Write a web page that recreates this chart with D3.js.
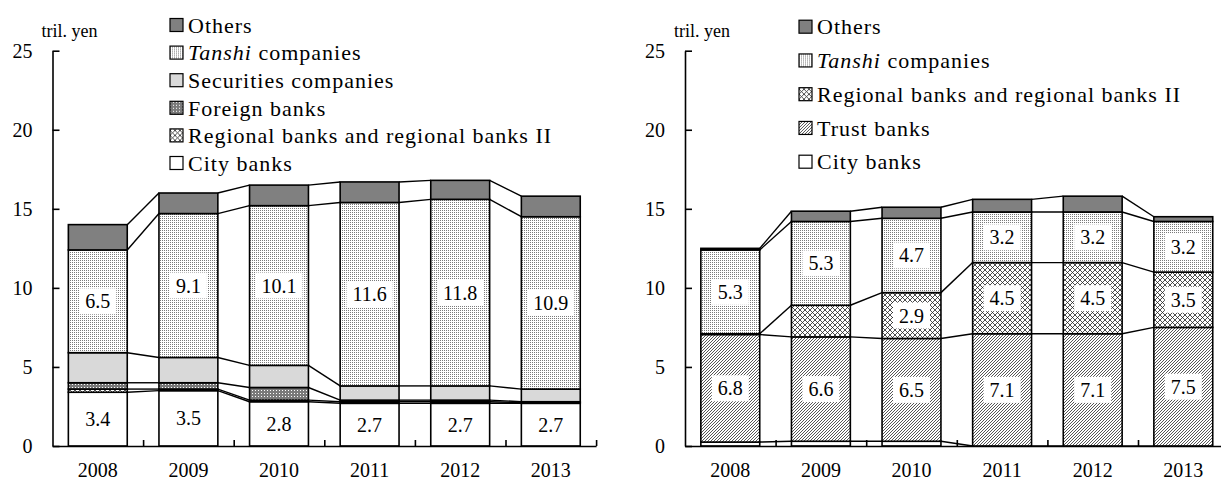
<!DOCTYPE html>
<html>
<head>
<meta charset="utf-8">
<script src="https://cdn.jsdelivr.net/npm/d3@7"></script>
<style>
	body { margin: 0; background: #fff; }
	text { font-family: "Liberation Serif", "Times New Roman", serif; fill: #000; }
</style>
</head>
<body>
<svg id="chart"></svg>
<script>
const years = ["2008", "2009", "2010", "2011", "2012", "2013"];
const yTicks = [0, 5, 10, 15, 20, 25];

// left panel, bottom to top
const leftCity = [3.4, 3.5, 2.8, 2.7, 2.7, 2.7];
const leftRegional = [0.2, 0.1, 0.1, 0.1, 0.1, 0.05];
const leftForeign = [0.4, 0.4, 0.8, 0.1, 0.1, 0.05];
const leftSecurities = [1.9, 1.6, 1.4, 0.9, 0.9, 0.8];
const leftTanshi = [6.5, 9.1, 10.1, 11.6, 11.8, 10.9];
const leftOthers = [1.6, 1.3, 1.3, 1.3, 1.2, 1.3];

// right panel, bottom to top
const rightCity = [0.25, 0.3, 0.3, 0, 0, 0];
const rightTrust = [6.8, 6.6, 6.5, 7.1, 7.1, 7.5];
const rightRegional = [0.05, 2.0, 2.9, 4.5, 4.5, 3.5];
const rightTanshi = [5.3, 5.3, 4.7, 3.2, 3.2, 3.2];
const rightOthers = [0.1, 0.65, 0.7, 0.8, 1.0, 0.3];

const svg = d3.select("#chart")
	.attr("width", 1221)
	.attr("height", 480);

const defs = svg.append("defs");

function pattern(id, w, h) {
	return defs.append("pattern")
		.attr("id", id)
		.attr("patternUnits", "userSpaceOnUse")
		.attr("width", w)
		.attr("height", h);
}

// fine light stipple
let p = pattern("pTanshi", 2, 2);
p.append("rect").attr("width", 2).attr("height", 2).attr("fill", "#fff");
p.append("rect").attr("width", 1).attr("height", 1).attr("fill", "#7a7a7a");

// dark stipple
p = pattern("pForeign", 3, 3);
p.append("rect").attr("width", 3).attr("height", 3).attr("fill", "#7a7a7a");
p.append("rect").attr("width", 1).attr("height", 1).attr("fill", "#fff");

// lattice
p = pattern("pRegional", 5, 5);
p.append("rect").attr("width", 5).attr("height", 5).attr("fill", "#fff");
p.append("path").attr("d", "M0,0L5,5M5,0L0,5").attr("stroke", "#222").attr("stroke-width", 0.8);

// dense diagonal hatch
p = pattern("pTrust", 3, 3);
p.append("rect").attr("width", 3).attr("height", 3).attr("fill", "#fff");
p.append("path").attr("d", "M-1,1L1,-1M0,3L3,0M2,4L4,2").attr("stroke", "#444").attr("stroke-width", 0.9);

function drawPanel(x0, series, legendX, legendY, legendStep) {
	const g = svg.append("g");
	const y0 = 446, yTop = 50.7, axisLen = 543.6;

	const y = d3.scaleLinear().domain([0, 25]).range([y0, yTop]);
	const x = d3.scaleBand()
		.domain(years)
		.range([x0, x0 + axisLen])
		.paddingInner(0.35)
		.paddingOuter(0.175);
	const xEdge = d3.scaleLinear().domain([0, years.length]).range([x0, x0 + axisLen]);

	const rows = years.map((yr, i) => {
		const r = { year: yr };
		series.forEach(s => r[s.key] = s.values[i]);
		return r;
	});
	const stacked = d3.stack().keys(series.map(s => s.key))(rows);

	// series lines between bars
	stacked.forEach(layer => {
		for (let i = 0; i < years.length - 1; i++) {
			g.append("line")
				.attr("x1", x(years[i]) + x.bandwidth())
				.attr("x2", x(years[i + 1]))
				.attr("y1", y(layer[i][1]))
				.attr("y2", y(layer[i + 1][1]))
				.attr("stroke", "#000")
				.attr("stroke-width", 1.4);
		}
	});

	stacked.forEach((layer, si) => {
		const s = series[si];
		g.selectAll(null)
			.data(layer)
			.enter().append("rect")
			.attr("x", d => x(d.data.year))
			.attr("y", d => y(d[1]))
			.attr("width", x.bandwidth())
			.attr("height", d => y(d[0]) - y(d[1]))
			.attr("fill", s.fill)
			.attr("stroke", "#000")
			.attr("stroke-width", 1.6);
	});

	// data labels
	stacked.forEach((layer, si) => {
		const s = series[si];
		if (!s.label) return;
		layer.forEach(d => {
			const v = d[1] - d[0];
			if (v < 2.5) return;
			const cx = x(d.data.year) + x.bandwidth() / 2;
			const cy = y((d[0] + d[1]) / 2);
			const lg = g.append("g");
			const box = lg.append("rect").attr("fill", "#fff");
			const t = lg.append("text")
				.attr("x", cx)
				.attr("y", cy)
				.attr("dy", "0.35em")
				.attr("text-anchor", "middle")
				.attr("font-size", "20px")
				.text(v.toFixed(1));
			const w = t.node().getComputedTextLength();
			box.attr("x", cx - w / 2 - 6)
				.attr("y", cy - 13)
				.attr("width", w + 12)
				.attr("height", 26);
		});
	});

	// y axis, ticks pointing inward
	g.append("g")
		.attr("transform", `translate(${x0},0)`)
		.call(d3.axisLeft(y).tickValues(yTicks).tickSize(-7).tickSizeOuter(0).tickPadding(20))
		.call(a => a.selectAll("path, line").attr("stroke", "#000").attr("stroke-width", 1.6))
		.call(a => a.selectAll("text").attr("font-size", "20px").attr("font-family", null));

	// x axis: ticks on band edges, labels in band centres
	g.append("g")
		.attr("transform", `translate(0,${y0})`)
		.call(d3.axisBottom(xEdge).tickValues(d3.range(1, years.length + 1)).tickSize(-6).tickSizeOuter(0).tickFormat(""))
		.call(a => a.selectAll("path, line").attr("stroke", "#000").attr("stroke-width", 1.6));

	g.append("g")
		.attr("transform", `translate(0,${y0})`)
		.call(d3.axisBottom(x).tickSize(0).tickPadding(17))
		.call(a => a.select(".domain").remove())
		.call(a => a.selectAll("text").attr("font-size", "20px").attr("font-family", null));

	g.append("text")
		.attr("x", x0 - 11)
		.attr("y", 31)
		.attr("dy", "0.35em")
		.attr("font-size", "18px")
		.text("tril. yen");

	// legend, top entry is the last series
	const legend = g.selectAll(".legend")
		.data(series.slice().reverse())
		.enter().append("g")
		.attr("transform", (d, i) => `translate(${legendX},${legendY + i * legendStep})`);

	legend.append("rect")
		.attr("x", 0)
		.attr("y", -6.5)
		.attr("width", 13)
		.attr("height", 13)
		.attr("fill", d => d.fill)
		.attr("stroke", "#000")
		.attr("stroke-width", 1.2);

	legend.append("text")
		.attr("x", 18)
		.attr("dy", "0.35em")
		.attr("font-size", "22px")
		.attr("letter-spacing", "1px")
		.each(function (d) {
			const t = d3.select(this);
			if (d.italic) {
				t.append("tspan").attr("font-style", "italic").text(d.italic);
				t.append("tspan").text(d.name);
			} else {
				t.text(d.name);
			}
		});
}

drawPanel(52.5, [
	{ key: "city", name: "City banks", values: leftCity, fill: "#fff", label: true },
	{ key: "regional", name: "Regional banks and regional banks II", values: leftRegional, fill: "url(#pRegional)" },
	{ key: "foreign", name: "Foreign banks", values: leftForeign, fill: "url(#pForeign)" },
	{ key: "securities", name: "Securities companies", values: leftSecurities, fill: "#d9d9d9" },
	{ key: "tanshi", italic: "Tanshi", name: "  companies", values: leftTanshi, fill: "url(#pTanshi)", label: true },
	{ key: "others", name: "Others", values: leftOthers, fill: "#808080" }
], 170, 25, 27.6);

drawPanel(685, [
	{ key: "city", name: "City banks", values: rightCity, fill: "#fff" },
	{ key: "trust", name: "Trust banks", values: rightTrust, fill: "url(#pTrust)", label: true },
	{ key: "regional", name: "Regional banks and regional banks II", values: rightRegional, fill: "url(#pRegional)", label: true },
	{ key: "tanshi", italic: "Tanshi", name: "  companies", values: rightTanshi, fill: "url(#pTanshi)", label: true },
	{ key: "others", name: "Others", values: rightOthers, fill: "#808080" }
], 799, 26.7, 33.75);
</script>
</body>
</html>
